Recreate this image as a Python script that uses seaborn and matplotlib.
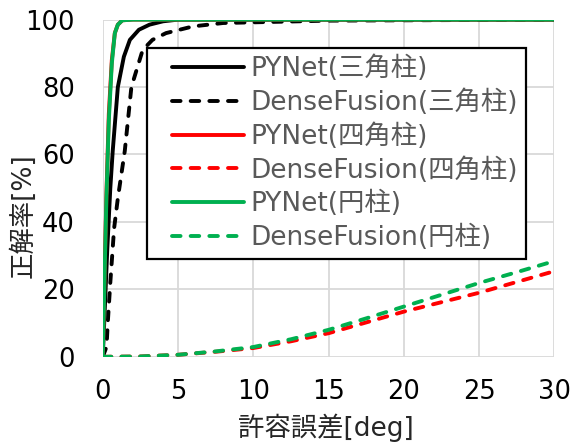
import matplotlib
matplotlib.use("Agg")
import matplotlib.pyplot as plt
from matplotlib.legend_handler import HandlerLine2D
import seaborn as sns
import pandas as pd

# values
x_pynet_tri = [0, 0.3, 0.5, 0.66, 1.0, 1.4, 1.8, 2.4, 3.1, 4.0, 5.0, 30]
y_pynet_tri = [0, 32, 50, 61, 80, 89, 94, 97, 98.5, 99.5, 100, 100]

x_dense_tri = [0, 0.25, 0.33, 0.5, 0.75, 1.0, 1.46, 1.9, 2.65, 3.3, 4.2, 6.0, 8.0, 15, 30]
y_dense_tri = [0, 3, 10, 22, 38, 47, 61, 80, 91, 94, 96, 98, 99, 99.7, 100]

x_pynet_sq = [0, 0.12, 0.24, 0.4, 0.6, 0.8, 1.0, 1.3, 2.0, 30]
y_pynet_sq = [0, 25, 48, 72, 88, 96, 98.5, 99.8, 100, 100]

x_pynet_cyl = [0, 0.12, 0.24, 0.4, 0.6, 0.8, 1.0, 1.3, 2.0, 30]
y_pynet_cyl = [0, 24, 47, 70, 87, 96, 98.5, 99.8, 100, 100]

x_dense = [0, 2.5, 5, 7.5, 10, 12.5, 15, 17.5, 20, 22.5, 25, 27.5, 30]
y_dense_sq = [0, 0.1, 0.6, 1.5, 2.6, 4.6, 7.0, 10.2, 13.4, 16.2, 19.0, 22.2, 25.4]
y_dense_cyl = [0, 0.1, 0.6, 1.6, 2.9, 5.2, 8.0, 11.4, 14.9, 18.4, 21.9, 25.1, 28.4]

labels = ["PYNet(三角柱)", "DenseFusion(三角柱)", "PYNet(四角柱)",
          "DenseFusion(四角柱)", "PYNet(円柱)", "DenseFusion(円柱)"]
colors = ["black", "black", "#ff0000", "#ff0000", "#00b050", "#00b050"]
dashed = [False, True, False, True, False, True]

series = [(x_pynet_tri, y_pynet_tri), (x_dense_tri, y_dense_tri),
          (x_pynet_sq, y_pynet_sq), (x_dense, y_dense_sq),
          (x_pynet_cyl, y_pynet_cyl), (x_dense, y_dense_cyl)]

sns.set_style("white")
plt.rcParams['font.family'] = ['DejaVu Sans', 'Noto Sans CJK JP']

fig, ax = plt.subplots(figsize=(5.71, 4.46), dpi=100)
fig.subplots_adjust(left=0.180, right=0.971, top=0.956, bottom=0.200)

for (xs, ys), lab, c, d in zip(series, labels, colors, dashed):
    df = pd.DataFrame({"x": xs, "y": ys})
    sns.lineplot(data=df, x="x", y="y", ax=ax, color=c, linewidth=2.8, label=lab)
    if d:
        ax.lines[-1].set_dashes([2.2, 2.6])
        ax.lines[-1].set_dash_capstyle("round")

ax.set_xlim(0, 30)
ax.set_ylim(0, 100)
ax.set_xticks(range(0, 31, 5))
ax.set_yticks(range(0, 101, 20))
ax.grid(True, color="#d9d9d9", linewidth=1.3)
for s in ax.spines.values():
    s.set_visible(False)
ax.tick_params(length=0, labelsize=18.5, colors="black")
ax.tick_params(axis="y", pad=20)
ax.tick_params(axis="x", pad=16)
ax.set_xlabel("許容誤差[deg]", fontsize=19, va="center")
ax.set_ylabel("正解率[%]", fontsize=19, va="center")
ax.xaxis.set_label_coords(0.495, -0.211)
ax.yaxis.set_label_coords(-0.175, 0.42)

leg = ax.legend(loc="upper left", bbox_to_anchor=(0.097, 0.917), borderaxespad=0,
                fontsize=19, handlelength=3.4, labelspacing=0.28, fancybox=False,
                framealpha=1, edgecolor="black", borderpad=0.3, handletextpad=0.25,
                handler_map={matplotlib.lines.Line2D: HandlerLine2D(xpad=0.65)})
leg.get_frame().set_linewidth(1.6)
for t in leg.get_texts():
    t.set_color("#595959")

fig.savefig("out.png", dpi=100)
